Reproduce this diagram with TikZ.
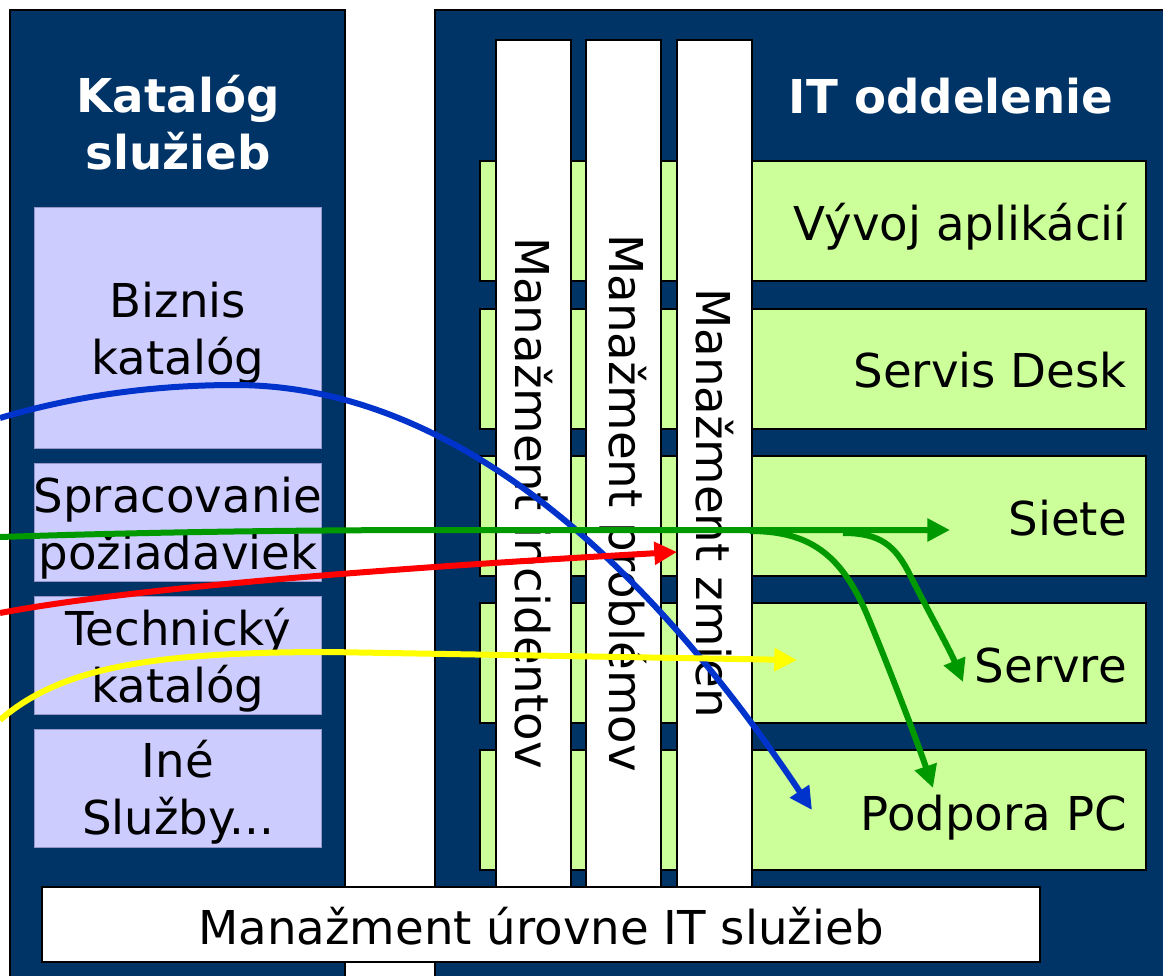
\documentclass[tikz,border=0pt]{standalone}
\usepackage{fontspec}
\setmainfont{DejaVu Sans}
\usetikzlibrary{arrows.meta}
\definecolor{navy}{RGB}{0,51,102}
\definecolor{lav}{RGB}{204,204,255}
\definecolor{lavline}{RGB}{150,150,200}
\definecolor{lgreen}{RGB}{204,255,153}
\definecolor{ablue}{RGB}{0,51,204}
\definecolor{agreen}{RGB}{0,153,0}
\definecolor{ared}{RGB}{255,0,0}
\definecolor{ayellow}{RGB}{255,255,0}
\begin{document}
\begin{tikzpicture}[x=0.75pt,y=-0.75pt,
  panel/.style={fill=navy,draw=black,line width=0.8pt},
  lavbox/.style={fill=lav,draw=lavline,line width=0.6pt},
  rowbox/.style={fill=lgreen,draw=black,line width=1.1pt},
  barbox/.style={fill=white,draw=black,line width=1.1pt},
  txt/.style={inner sep=0pt,font=\fontsize{35}{42.75}\selectfont},
  ttl/.style={inner sep=0pt,text=white,font=\fontsize{35}{42.75}\selectfont\bfseries},
  arr/.style={line width=4.5pt,-{Triangle[length=17pt,width=16.5pt]}},
]
\clip (0,0) rectangle (1163,975);
\fill[white] (0,0) rectangle (1163,975);
% panels
\path[panel] (10,10) rectangle (345,990);
\path[panel] (435,10) rectangle (1180,990);
% catalogue boxes
\path[lavbox] (34,207) rectangle (321,448);
\path[lavbox] (34,463) rectangle (321,581);
\path[lavbox] (34,596) rectangle (321,714);
\path[lavbox] (34,729) rectangle (321,847);
% IT rows
\foreach \t in {161,309,456,603,750}{
  \path[rowbox] (480,\t) rectangle (1146,\t+120);
}
% process bars
\path[barbox] (496,40) rectangle (571,887);
\path[barbox] (586,40) rectangle (661,887);
\path[barbox] (677,40) rectangle (752,887);
% service level box
\path[barbox] (42,887) rectangle (1040,962);

% texts
\node[ttl,align=center] (tcat) at (178,130) {\strut Katalóg\\\strut služieb};
\node[ttl,anchor=base] (tit) at (951,113) {IT oddelenie};
\node[txt,align=center] (biz) at (178,335) {\strut Biznis\\\strut katalóg};
\node[txt,align=center] (spr) at (178,530) {\strut Spracovanie\\\strut požiadaviek};
\node[txt,align=center] (tech) at (178,663) {\strut Technický\\\strut katalóg};
\node[txt,align=center] (ine) at (178,795) {\strut Iné\\\strut Služby...};
\node[txt,anchor=base east] (vyv) at (1127,240) {Vývoj aplikácií};
\node[txt,anchor=base east] (sd) at (1127,387) {Servis Desk};
\node[txt,anchor=base east] (sie) at (1127,535) {Siete};
\node[txt,anchor=base east] (ser) at (1127,682) {Servre};
\node[txt,anchor=base east] (pc) at (1127,830) {Podpora PC};
\node[txt,rotate=-90] (minc) at (533.5,503) {Manažment incidentov};
\node[txt,rotate=-90] (mprob) at (623.5,503) {Manažment problémov};
\node[txt,rotate=-90] (mzm) at (714.5,503) {Manažment zmien};
\node[txt,anchor=base] (sla) at (541,944) {Manažment úrovne IT služieb};

% arrows
\coordinate (bS) at (0,418);
\coordinate (bE) at (812,810);
\coordinate (gS) at (0,537);
\coordinate (gE) at (950,530);
\coordinate (g1S) at (750,531);
\coordinate (g1E) at (933,788);
\coordinate (g2S) at (843,533);
\coordinate (g2E) at (963,682);
\coordinate (rS) at (0,613);
\coordinate (rE) at (677,552);
\coordinate (yS) at (0,720);
\coordinate (yE) at (797,660);

\draw[arr,ablue] (bS) .. controls (74,396) and (153,385) .. (235,385)
  .. controls (431,385) and (623,527) .. (bE);
\draw[arr,agreen] (gS) .. controls (150,532) and (300,530) .. (450,530) -- (gE);
\draw[arr,agreen] (g1S) .. controls (810,531) and (840,555) .. (865,610)
  .. controls (880,645) and (915,735) .. (g1E);
\draw[arr,agreen] (g2S) .. controls (880,533) and (895,545) .. (910,575)
  .. controls (925,605) and (950,650) .. (g2E);
\draw[arr,ared] (rS) .. controls (100,594) and (300,573) .. (rE);
\draw[arr,ayellow] (yS) .. controls (60,668) and (150,652) .. (330,652) -- (yE);
\end{tikzpicture}
\end{document}
